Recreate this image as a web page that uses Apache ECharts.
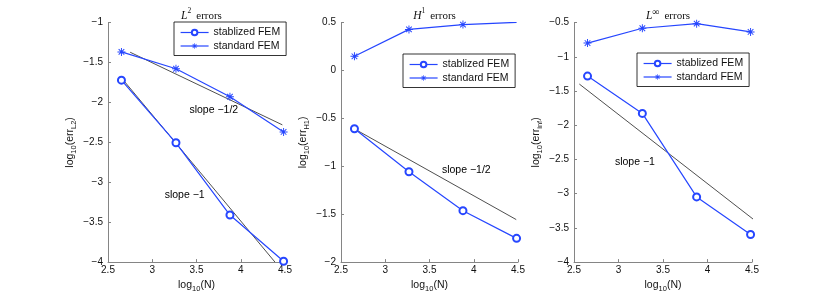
<!DOCTYPE html>
<html>
<head>
<meta charset="utf-8">
<script src="https://cdn.jsdelivr.net/npm/echarts@6/dist/echarts.min.js"></script>
<style>
html,body{margin:0;padding:0;background:#fff;}
#chart{width:830px;height:298px;}
</style>
</head>
<body>
<div id="chart"></div>
<script>
// log10(N)
const logN = [2.652, 3.268, 3.878, 4.484];

// L2 errors (log10)
const l2Stab = [-1.72, -2.505, -3.41, -3.99];
const l2Std  = [-1.366, -1.577, -1.928, -2.369];
const l2SlopeHalfX = [2.75, 4.47];
const l2SlopeHalfY = [-1.37, -2.28];
const l2SlopeOneX = [2.69, 4.387];
const l2SlopeOneY = [-1.742, -4.0];

// H1 errors (log10)
const h1Stab = [-0.608, -1.056, -1.463, -1.752];
const h1Std  = [0.149, 0.43, 0.48, 0.504];
const h1SlopeX = [2.65, 4.48];
const h1SlopeY = [-0.608, -1.556];

// Linf errors (log10)
const infStab = [-1.281, -1.826, -3.047, -3.597];
const infStd  = [-0.798, -0.581, -0.514, -0.635];
const infSlopeX = [2.56, 4.516];
const infSlopeY = [-1.397, -3.375];

// annotation anchors [x, y, text]
const notes1 = [[3.42, -2.10, 'slope \u22121/2'], [3.14, -3.16, 'slope \u22121']];
const notes2 = [[3.64, -1.04, 'slope \u22121/2']];
const notes3 = [[2.96, -2.536, 'slope \u22121']];

const xTicks = {min: 2.5, max: 4.5, interval: 0.5};
const yRanges = [{min: -4, max: -1}, {min: -2, max: 0.5}, {min: -4, max: -0.5}];
const seriesNames = ['stablized FEM', 'standard FEM'];

const BLUE = '#2646ff';
const AXIS = '#858585';
const SANS = 'Liberation Sans, Arial, sans-serif';
const SERIF = 'Liberation Serif, Times New Roman, serif';

const STAR = 'path://M8.8 0L11.2 0L11.2 20L8.8 20Z M0 8.8L20 8.8L20 11.2L0 11.2Z M3.85 2.15L17.85 16.15L16.15 17.85L2.15 3.85Z M16.15 2.15L17.85 3.85L3.85 17.85L2.15 16.15Z';

const grids = [
  {left: 108, top: 22.7, width: 177, height: 242.3},
  {left: 341, top: 22.7, width: 177, height: 242.3},
  {left: 574, top: 22.7, width: 178, height: 242.3}
];

function fmt(v){
  const r = Math.round(v*100)/100;
  return r < 0 ? '\u2212' + Math.abs(r) : String(r);
}

const xAxes = grids.map((g,i)=>({
  type:'value', gridIndex:i, min:xTicks.min, max:xTicks.max, interval:xTicks.interval,
  name:'log{s|10}(N)', nameLocation:'middle', nameGap:15,
  nameTextStyle:{fontFamily:SANS, fontSize:10.5, color:'#111',
    rich:{s:{fontFamily:SANS, fontSize:7.5, color:'#111', verticalAlign:'bottom', padding:[7,0,0,0]}}},
  axisLine:{show:true, onZero:false, lineStyle:{color:AXIS, width:1}},
  axisTick:{show:true, inside:true, length:3, lineStyle:{color:AXIS}},
  axisLabel:{formatter:fmt, fontFamily:SANS, fontSize:10, color:'#111', margin:3, showMinLabel:true, showMaxLabel:true},
  splitLine:{show:false}
}));

const yNames = ['log{s|10}(err{s|L2})', 'log{s|10}(err{s|H1})', 'log{s|10}(err{s|inf})'];
const yAxes = grids.map((g,i)=>({
  type:'value', gridIndex:i, min:yRanges[i].min, max:yRanges[i].max, interval:0.5,
  name:yNames[i], nameLocation:'middle', nameGap:30, nameRotate:90,
  nameTextStyle:{fontFamily:SANS, fontSize:10.5, color:'#111',
    rich:{s:{fontFamily:SANS, fontSize:7.5, color:'#111', verticalAlign:'bottom', padding:[7,0,0,0]}}},
  axisLine:{show:true, onZero:false, lineStyle:{color:AXIS, width:1}},
  axisTick:{show:true, inside:true, length:3, lineStyle:{color:AXIS}},
  axisLabel:{formatter:fmt, fontFamily:SANS, fontSize:10, color:'#111', margin:5, showMinLabel:true, showMaxLabel:true},
  splitLine:{show:false}
}));

function zip(xs, ys){ return xs.map((x,k)=>[x, ys[k]]); }

function dataSeries(i, stab, std){
  return [
    {name:seriesNames[0], type:'line', xAxisIndex:i, yAxisIndex:i, data:zip(logN, stab),
     symbol:'emptyCircle', symbolSize:7, showSymbol:true,
     lineStyle:{color:BLUE, width:1.2}, itemStyle:{color:BLUE, borderColor:BLUE, borderWidth:1}, z:3, animation:false},
    {name:seriesNames[1], type:'line', xAxisIndex:i, yAxisIndex:i, data:zip(logN, std),
     symbol:STAR, symbolSize:8, showSymbol:true,
     lineStyle:{color:BLUE, width:1.2}, itemStyle:{color:BLUE}, z:3, animation:false}
  ];
}
function slopeSeries(i, xs, ys){
  return {type:'line', xAxisIndex:i, yAxisIndex:i, data:zip(xs, ys), symbol:'none',
    lineStyle:{color:'#222', width:0.8}, z:2, animation:false, silent:true};
}
function noteSeries(i, notes){
  return {type:'scatter', xAxisIndex:i, yAxisIndex:i, symbolSize:0, silent:true, animation:false,
    itemStyle:{opacity:1},
    data:notes.map(n=>({value:[n[0], n[1]], name:n[2]})),
    label:{show:true, position:'right', distance:0, formatter:p=>p.name,
      fontFamily:SANS, fontSize:10.5, color:'#000'}};
}

const series = [].concat(
  dataSeries(0, l2Stab, l2Std), [slopeSeries(0, l2SlopeHalfX, l2SlopeHalfY), slopeSeries(0, l2SlopeOneX, l2SlopeOneY), noteSeries(0, notes1)],
  dataSeries(1, h1Stab, h1Std), [slopeSeries(1, h1SlopeX, h1SlopeY), noteSeries(1, notes2)],
  dataSeries(2, infStab, infStd), [slopeSeries(2, infSlopeX, infSlopeY), noteSeries(2, notes3)]
);

const titleTexts = ['{i|L}{p|2} {n|errors}', '{i|H}{p|1} {n|errors}', '{i|L}{q|\u221E} {n|errors}'];
const titleRich = {
  i:{fontFamily:SERIF, fontStyle:'italic', fontWeight:'normal', fontSize:11.5, color:'#111'},
  p:{fontFamily:SERIF, fontWeight:'normal', fontSize:7.5, color:'#111', verticalAlign:'top', padding:[0,0,6,0]},
  q:{fontFamily:SERIF, fontWeight:'normal', fontSize:10, color:'#111', verticalAlign:'top', padding:[0,0,4,0]},
  n:{fontFamily:SERIF, fontWeight:'normal', fontSize:11, color:'#111'}
};
const titles = grids.map((g,i)=>({
  text:titleTexts[i], left:g.left + g.width/2, top:2, textAlign:'center',
  textStyle:{fontWeight:'normal', rich:titleRich}
}));

const legendPos = [{left:174, top:22}, {left:403, top:54}, {left:637, top:53}];
const legends = legendPos.map(p=>({
  left:p.left, top:p.top, orient:'vertical', data:seriesNames, selectedMode:false,
  backgroundColor:'#fff', borderColor:'#000', borderWidth:0.8, borderRadius:0,
  padding:[5,6,4,6], itemGap:2.5, itemWidth:28, itemHeight:7,
  lineStyle:{width:1.2}, itemStyle:{borderWidth:1},
  textStyle:{fontFamily:SANS, fontSize:10.5, color:'#111'}
}));

const chart = echarts.init(document.getElementById('chart'), null, {renderer:'canvas'});
chart.setOption({
  animation:false,
  backgroundColor:'#fff',
  title:titles,
  legend:legends,
  grid:grids,
  xAxis:xAxes,
  yAxis:yAxes,
  series:series
});
</script>
</body>
</html>
